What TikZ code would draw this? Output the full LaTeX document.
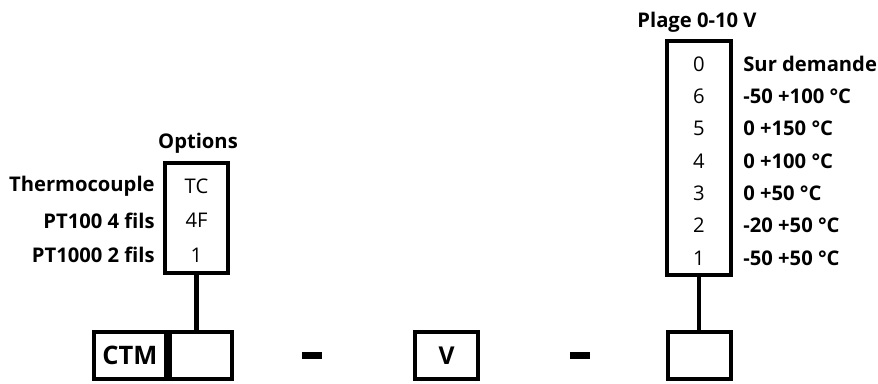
\documentclass[tikz,border=0pt]{standalone}
\usepackage{fontspec}
\setmainfont{Open Sans}
\usetikzlibrary{positioning}

\begin{document}
\begin{tikzpicture}[
    x=0.02cm, y=-0.02cm,
    box/.style={draw, line width=2.5pt, inner sep=0pt, minimum width=62.6*0.02cm, minimum height=46.6*0.02cm},
    link/.style={line width=2.3pt},
    hyphen/.style={fill=black, inner sep=0pt, minimum width=20*0.02cm, minimum height=6.5*0.02cm},
    val/.style={font=\fontsize{11.5}{13}\selectfont, inner sep=0pt},
    lbl/.style={font=\fontsize{11.5}{13}\selectfont\bfseries, inner sep=0pt}
]
\useasboundingbox (0,0) rectangle (878,383);
% code line
\node[box, minimum width=71.8*0.02cm, font=\fontsize{14.5}{16}\selectfont\bfseries] (ctm) at (130,355.5) {CTM};
\node[box, minimum width=61.8*0.02cm, anchor=west] (opt) at (ctm.east) {};
\node[hyphen] (d1) at (312,355.5) {};
\node[box, font=\fontsize{14}{16}\selectfont\bfseries] (sig) at (446.5,355.5) {V};
\node[hyphen] (d2) at (579.5,355.5) {};
\node[box] (rng) at (699.5,355.5) {};
% options
\node[box, minimum height=109.6*0.02cm] (optlist) at (196.5,218) {};
\node[lbl, anchor=base] (opttitle) at (198,148) {Options};
\foreach \v/\t [count=\i] in {TC/Thermocouple, 4F/PT100 4 fils, 1/PT1000 2 fils}
{
  \node[val] (ov\i) at (196.5,{186+34.5*(\i-1)}) {\v};
  \node[lbl, anchor=east] (ol\i) at (155,{186+34.5*(\i-1)}) {\t};
}
\draw[link] (optlist.south) -- (optlist.south |- opt.north);
% ranges
\node[box, minimum width=63.6*0.02cm, minimum height=233.6*0.02cm] (rnglist) at (699,158) {};
\node[lbl, anchor=base] (rngtitle) at (697,27.5) {Plage 0-10 V};
\foreach \v/\t [count=\i] in {0/Sur demande, 6/-50 +100 °C, 5/0 +150 °C, 4/0 +100 °C, 3/0 +50 °C, 2/-20 +50 °C, 1/-50 +50 °C}
{
  \node[val] (rv\i) at (699,{64+32.3*(\i-1)}) {\v};
  \node[lbl, anchor=west] (rl\i) at (743,{64+32.3*(\i-1)}) {\t};
}
\draw[link] (rnglist.south) -- (rnglist.south |- rng.north);
\end{tikzpicture}
\end{document}
